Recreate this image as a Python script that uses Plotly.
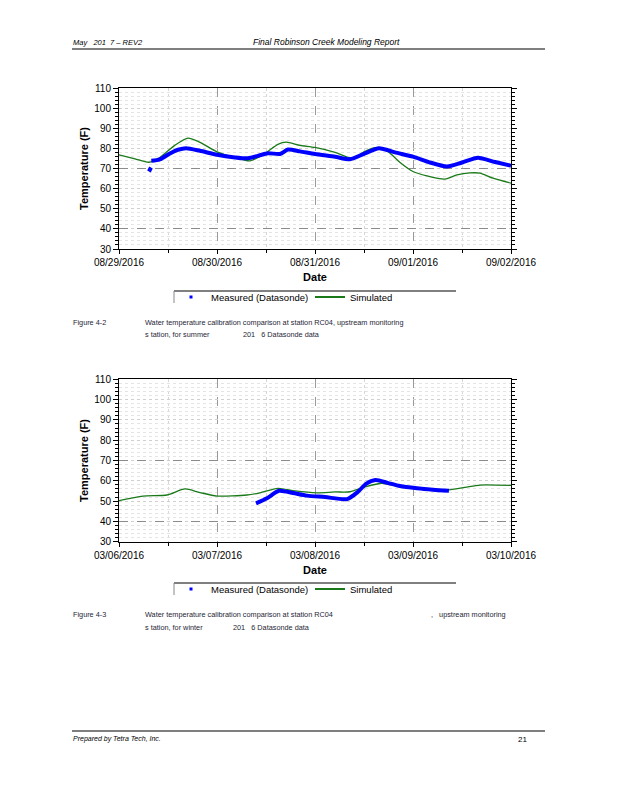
import plotly.graph_objects as go

# the page is drawn inside the browser's 8px body margin
OFF = 8
W, H = 618 - 2 * OFF, 800 - 2 * OFF

# ---------------- data ----------------
summer_sim_time = [
    "2016-08-29 00:00", "2016-08-29 03:55", "2016-08-29 07:20", "2016-08-29 10:00",
    "2016-08-29 13:40", "2016-08-29 16:55", "2016-08-29 19:50", "2016-08-30 00:00",
    "2016-08-30 04:25", "2016-08-30 08:05", "2016-08-30 11:45", "2016-08-30 14:55",
    "2016-08-30 16:55", "2016-08-30 20:20", "2016-08-31 00:00", "2016-08-31 04:55",
    "2016-08-31 09:05", "2016-08-31 12:15", "2016-08-31 14:40", "2016-08-31 17:53",
    "2016-08-31 20:50", "2016-09-01 00:00", "2016-09-01 03:25", "2016-09-01 07:50",
    "2016-09-01 10:47", "2016-09-01 13:55", "2016-09-01 16:25", "2016-09-01 19:35",
    "2016-09-02 00:00",
]
summer_sim_temp = [
    76.8, 74.8, 73.1, 75.5, 81.5, 85.1, 83.0, 78.3,
    75.5, 73.8, 77.5, 82.0, 83.1, 81.5, 80.5, 78.0,
    75.1, 78.5, 80.4, 78.4, 73.0, 68.5, 66.3, 64.7,
    66.8, 67.8, 67.7, 65.2, 62.7,
]
summer_meas_time = [
    "2016-08-29 07:20", "2016-08-29 07:50", None,
    "2016-08-29 07:55", "2016-08-29 10:00", "2016-08-29 12:29", "2016-08-29 14:27",
    "2016-08-29 16:25", "2016-08-29 19:50", "2016-08-30 00:00", "2016-08-30 04:25",
    "2016-08-30 07:35", "2016-08-30 10:02", "2016-08-30 12:29", "2016-08-30 15:26",
    "2016-08-30 17:23", "2016-08-30 20:20", "2016-08-31 00:00", "2016-08-31 04:55",
    "2016-08-31 08:34", "2016-08-31 12:14", "2016-08-31 15:40", "2016-08-31 19:35",
    "2016-09-01 00:00", "2016-09-01 04:09", "2016-09-01 08:20", "2016-09-01 12:00",
    "2016-09-01 15:55", "2016-09-01 20:05", "2016-09-02 00:00",
]
summer_meas_temp = [
    68.5, 70.5, None,
    73.8, 74.5, 77.5, 79.3,
    80.1, 78.8, 76.8, 75.5,
    75.1, 76.3, 77.6, 77.2,
    79.4, 78.5, 77.2, 75.8,
    74.6, 77.5, 80.1, 78.0,
    75.9, 73.0, 71.0, 73.0,
    75.4, 73.2, 71.4,
]

winter_sim_time = [
    "2016-03-06 00:00", "2016-03-06 05:53", "2016-03-06 11:46", "2016-03-06 16:09",
    "2016-03-06 19:50", "2016-03-07 00:00", "2016-03-07 07:20", "2016-03-07 10:32",
    "2016-03-07 14:55", "2016-03-07 19:06", "2016-03-08 00:29", "2016-03-08 04:54",
    "2016-03-08 08:34", "2016-03-08 12:14", "2016-03-08 16:25", "2016-03-08 20:05",
    "2016-03-09 00:00", "2016-03-09 08:20", "2016-03-09 12:45", "2016-03-09 16:25",
    "2016-03-10 00:00",
]
winter_sim_temp = [
    50.2, 52.5, 53.0, 56.0, 54.2, 52.5, 53.0, 54.1,
    56.3, 55.0, 54.1, 54.5, 54.6, 57.0, 58.8, 57.5,
    56.8, 55.5, 56.8, 57.9, 57.7,
]
winter_meas_time = [
    "2016-03-07 09:33", "2016-03-07 12:14", "2016-03-07 15:11", "2016-03-07 18:37",
    "2016-03-07 22:02", "2016-03-08 02:27", "2016-03-08 07:51", "2016-03-08 10:32",
    "2016-03-08 12:29", "2016-03-08 14:50", "2016-03-08 17:46", "2016-03-08 20:48",
    "2016-03-09 00:59", "2016-03-09 04:54", "2016-03-09 08:48",
]
winter_meas_temp = [
    48.9, 51.4, 55.1, 54.0, 52.7, 52.0, 51.0, 54.6,
    58.5, 60.4, 59.0, 57.4, 56.3, 55.6, 55.1,
]

summer_range = ["2016-08-29", "2016-09-02"]
winter_range = ["2016-03-06", "2016-03-10"]
temp_range = [30, 110]
temp_dark_grid = [40, 70]

meas_name = "Measured (Datasonde)"
sim_name = "Simulated"

# ---------------- styling ----------------
BLUE = "#0000ff"
GREEN = "#1a7a1a"
TICKFONT = dict(family="Liberation Sans, Arial, sans-serif", size=10, color="black")
TITLEFONT = dict(family="Liberation Sans, Arial, sans-serif", size=11, color="black", weight="bold")
PAGEFONT = "Liberation Sans, Arial, sans-serif"
CAPCOLOR = "#262636"


def px(x):
    return (x - OFF) / W


def py(y):
    return 1 - (y - OFF) / H


fig = go.Figure()


def add_chart(xa, ya, ya_over, legend, times_sim, temps_sim, times_meas, temps_meas):
    fig.add_trace(go.Scatter(
        x=times_sim, y=temps_sim, mode="lines", name=sim_name,
        line=dict(color=GREEN, width=1.3, shape="spline", smoothing=0.7),
        xaxis=xa, yaxis=ya, showlegend=False, hoverinfo="skip"))
    fig.add_trace(go.Scatter(
        x=times_meas, y=temps_meas, mode="lines", name=meas_name,
        line=dict(color=BLUE, width=4, shape="spline", smoothing=0.7),
        xaxis=xa, yaxis=ya, showlegend=False, connectgaps=False))
    # legend entries
    fig.add_trace(go.Scatter(
        x=[None], y=[None], mode="markers", name=meas_name,
        marker=dict(color=BLUE, size=3, symbol="square"),
        xaxis=xa, yaxis=ya, legend=legend))
    fig.add_trace(go.Scatter(
        x=[None], y=[None], mode="lines", name=sim_name,
        line=dict(color=GREEN, width=2),
        xaxis=xa, yaxis=ya, legend=legend))
    # carrier for the darker grid overlay axis
    fig.add_trace(go.Scatter(
        x=[None], y=[None], mode="lines", showlegend=False, hoverinfo="skip",
        xaxis=xa, yaxis=ya_over))


add_chart("x", "y", "y3", "legend", summer_sim_time, summer_sim_temp,
          summer_meas_time, summer_meas_temp)
add_chart("x2", "y2", "y4", "legend2", winter_sim_time, winter_sim_temp,
          winter_meas_time, winter_meas_temp)

xdom = [px(119), px(511)]
ydom1 = [py(249), py(88)]
ydom2 = [py(541.7), py(379.3)]


def xaxis_cfg(rng, anchor, dom):
    return dict(
        type="date", range=rng, domain=dom, anchor=anchor, automargin=False,
        dtick=86400000, tickformat="%m/%d/%Y", tickfont=TICKFONT,
        showgrid=True, gridcolor="#9a9a9a", griddash="dash", gridwidth=1,
        ticks="outside", ticklen=4, tickcolor="black",
        showline=True, linecolor="black", linewidth=1, mirror=True,
        zeroline=False,
        minor=dict(dtick=43200000, showgrid=True, gridcolor="#d6d6d6",
                   griddash="dot", ticks="outside", ticklen=3, tickcolor="black"),
        title=dict(text="Date", font=TITLEFONT, standoff=6),
    )


def yaxis_cfg(anchor, dom):
    return dict(
        range=temp_range, domain=dom, anchor=anchor, automargin=False,
        dtick=10, tick0=30, tickfont=TICKFONT,
        showgrid=True, gridcolor="#cfcfcf", griddash="dot", gridwidth=1,
        ticks="outside", ticklen=5, tickcolor="black",
        showline=True, linecolor="black", linewidth=1, mirror="ticks",
        zeroline=False,
        minor=dict(dtick=2, showgrid=True, gridcolor="#e4e4e4", griddash="dot",
                   ticks="outside", ticklen=3, tickcolor="black"),
        title=dict(text="Temperature (F)", font=TITLEFONT, standoff=3),
    )


def overlay_cfg(over, anchor):
    return dict(
        overlaying=over, anchor=anchor, range=temp_range, automargin=False,
        tickmode="array", tickvals=temp_dark_grid, showticklabels=False,
        showgrid=True, gridcolor="#8c8c8c", griddash="dash", gridwidth=1,
        ticks="", showline=False, zeroline=False)


legend_common = dict(
    orientation="h", xanchor="left", yanchor="middle",
    font=dict(family="Liberation Sans, Arial, sans-serif", size=9.5, color="black"),
    bgcolor="rgba(255,255,255,0)", borderwidth=0,
    entrywidthmode="pixels", entrywidth=94, itemwidth=30,
)

fig.update_layout(
    width=W, height=H, autosize=False,
    margin=dict(l=0, r=0, t=0, b=0, pad=0),
    paper_bgcolor="white", plot_bgcolor="white",
    showlegend=True,
    xaxis=xaxis_cfg(summer_range, "y", xdom),
    yaxis=yaxis_cfg("x", ydom1),
    yaxis3=overlay_cfg("y", "x"),
    xaxis2=xaxis_cfg(winter_range, "y2", xdom),
    yaxis2=yaxis_cfg("x2", ydom2),
    yaxis4=overlay_cfg("y2", "x2"),
    legend=dict(legend_common, x=px(171), y=py(297)),
    legend2=dict(legend_common, x=px(171), y=py(589)),
)

# legend frame (top and left edges, as in the report)
for ytop in (291, 583):
    fig.add_shape(type="line", xref="paper", yref="paper",
                  x0=px(174), x1=px(456), y0=py(ytop), y1=py(ytop),
                  line=dict(color="black", width=1))
    fig.add_shape(type="line", xref="paper", yref="paper",
                  x0=px(174), x1=px(174), y0=py(ytop), y1=py(ytop + 12),
                  line=dict(color="#888888", width=1))

# page header / footer rules
for yl in (49, 731):
    fig.add_shape(type="line", xref="paper", yref="paper",
                  x0=px(72), x1=px(545), y0=py(yl), y1=py(yl),
                  line=dict(color="black", width=1.2))


def text(x, y, s, size=9, italic=False, color="black", anchor="left"):
    fig.add_annotation(
        x=px(x), y=py(y), xref="paper", yref="paper", text=s, showarrow=False,
        xanchor=anchor, yanchor="middle", borderpad=0,
        font=dict(family=PAGEFONT, size=size, color=color,
                  style="italic" if italic else "normal"))


text(72, 42, "May   201  7 – REV2", size=7.5, italic=True)
text(326, 42, "Final Robinson Creek Modeling Report", size=8.5, italic=True, anchor="center")
text(72, 739, "Prepared by Tetra Tech, Inc.", size=7, italic=True)
text(528, 739, "21", size=8, anchor="right")

CAP = 7.3
text(72, 322, "Figure 4-2", size=CAP, color=CAPCOLOR)
text(144, 322, "Water temperature calibration comparison at station RC04, upstream monitoring",
     size=CAP, color=CAPCOLOR)
text(144, 334, "s tation, for summer", size=CAP, color=CAPCOLOR)
text(242, 334, "201   6 Datasonde data", size=CAP, color=CAPCOLOR)

text(72, 614, "Figure 4-3", size=CAP, color=CAPCOLOR)
text(144, 614, "Water temperature calibration comparison at station RC04", size=CAP, color=CAPCOLOR)
text(430, 614, ",   upstream monitoring", size=CAP, color=CAPCOLOR)
text(144, 627, "s tation, for winter", size=CAP, color=CAPCOLOR)
text(232, 627, "201   6 Datasonde data", size=CAP, color=CAPCOLOR)

fig.write_html("out.html")
